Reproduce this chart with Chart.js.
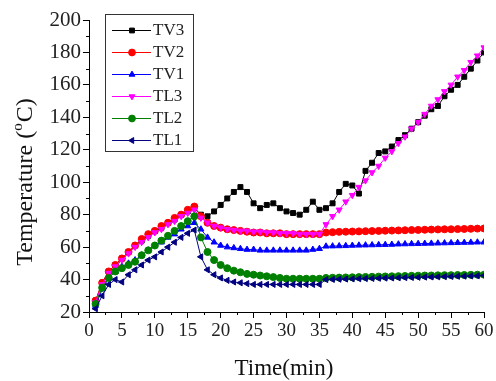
<!DOCTYPE html>
<html>
<head>
<meta charset="utf-8">
<script src="https://cdn.jsdelivr.net/npm/chart.js@4/dist/chart.umd.min.js"></script>
<style>
  html, body { margin: 0; padding: 0; background: #fff; }
  #wrap { width: 496px; height: 381px; position: relative; }
</style>
</head>
<body>
<div id="wrap"><canvas id="chart" width="496" height="381"></canvas></div>
<script>
// ── Dados (tempo em min, temperatura em °C) ──
const times = [1,2,3,4,5,6,7,8,9,10,11,12,13,14,15,16,17,18,19,20,21,22,23,24,25,26,27,28,29,30,
               31,32,33,34,35,36,37,38,39,40,41,42,43,44,45,46,47,48,49,50,51,52,53,54,55,56,57,58,59,60];

const tv3 = [27,38,45,49,53,57,61,64,67,70,72,75,77,80,82,84,80,79,82,86,90,94,97,94,87,84,86,87,84,82,
             81,80,83,88,83,84,87,94,99,98,93,107,112,118,119,122,126,129,133,137,141,145,147,153,157,160,165,170,175,180];
const tv2 = [27,38,45,49,53,57,61,65,68,70,73,75,78,80,83,85,79,75,73,72,71,70.5,70,69.5,69,69,68.5,68.5,68.5,68,
             68,68,68,68,68,69,69.2,69.4,69.5,69.6,69.7,69.8,69.9,70,70.1,70.2,70.3,70.4,70.5,70.6,70.7,70.8,70.9,71,71,71.1,71.2,71.3,71.4,71.5];
const tv1 = [24,34,41,45,48,50,52,55,58,61,63,66,68,71,73,75,71,66,63,61,60,59.5,59,58.5,58.5,58,58,58,58,58,
             58,58,58,58.5,59,60.5,60.6,60.7,60.8,61,61.1,61.2,61.3,61.4,61.5,61.6,61.8,61.9,62,62.1,62.2,62.3,62.4,62.5,62.6,62.7,62.8,62.9,63,63];
const tl3 = [26,37,44,48,52,56,60,63,66,69,71,74,76,79,81,83,78,75,73,72,71,70.5,70,70,69.5,69.5,69,69,68.5,68.5,
             68.5,68,68,68,68,74,79,83,88,92,97,101,106,110,115,119,124,128,133,137,142,147,151,156,160,165,169,174,178,183];
const tl2 = [25,35,41,45,47,49,51,55,58,61,64,67,70,73,76,79,66,57,52,49,47,45.5,44.5,43.5,43,42.5,42,41.5,41,40.5,
             40.5,40.5,40.5,40.5,40.5,41,41.1,41.2,41.3,41.4,41.5,41.6,41.7,41.8,41.9,42,42.1,42.2,42.3,42.4,42.5,42.5,42.6,42.7,42.7,42.8,42.8,42.9,43,43];
const tl1 = [22,30,37,40,38.5,43,46,49,52,54,57,60,63,66,68.5,70.5,54,46,43,41,39.5,38.5,38,37.5,37,37,37,37,37,37,
             37,37,37,37,37,40,40.1,40.2,40.3,40.4,40.5,40.6,40.7,40.8,40.9,41,41.1,41.2,41.3,41.4,41.5,41.6,41.7,41.8,41.9,42,42.1,42.2,42.3,42.5];

const xTicks = [0,5,10,15,20,25,30,35,40,45,50,55,60];
const yTicks = [20,40,60,80,100,120,140,160,180,200];

const SERIF = '"Liberation Serif", "Times New Roman", serif';

function pts(vals) { return times.map((t, i) => ({ x: t, y: vals[i] })); }

function serie(label, vals, color, style, rot, order) {
    return {
        label, data: pts(vals), order,
        borderColor: color, backgroundColor: color,
        borderWidth: 1, pointStyle: style, pointRotation: rot,
        pointRadius: 3.5, pointBorderWidth: 1, tension: 0,
    };
}

// ── Plugin: ticks menores, títulos dos eixos e legenda em caixa ──
const extras = {
    id: 'extras',
    afterDraw(chart) {
        const { ctx, chartArea: a, scales: { x, y } } = chart;
        ctx.save();
        ctx.strokeStyle = '#000';
        ctx.lineWidth = 1;
        // ticks menores
        for (let i = 0; i < yTicks.length - 1; i++) {
            const py = Math.round(y.getPixelForValue((yTicks[i] + yTicks[i + 1]) / 2)) + 0.5;
            ctx.beginPath(); ctx.moveTo(a.left - 3, py); ctx.lineTo(a.left, py); ctx.stroke();
        }
        for (let i = 0; i < xTicks.length - 1; i++) {
            const px = Math.round(x.getPixelForValue((xTicks[i] + xTicks[i + 1]) / 2)) + 0.5;
            ctx.beginPath(); ctx.moveTo(px, a.bottom); ctx.lineTo(px, a.bottom + 3); ctx.stroke();
        }

        // título do eixo x
        ctx.fillStyle = '#111';
        ctx.textAlign = 'center';
        ctx.textBaseline = 'middle';
        ctx.font = '23px ' + SERIF;
        ctx.fillText('Time(min)', 284, 369);

        // título do eixo y com "o" sobrescrito
        ctx.translate(26, 182);
        ctx.rotate(-Math.PI / 2);
        const big = '24px ' + SERIF, small = '15px ' + SERIF;
        ctx.font = big;
        const p1 = 'Temperature (', p3 = 'C)';
        const w1 = ctx.measureText(p1).width, w3 = ctx.measureText(p3).width;
        ctx.font = small;
        const w2 = ctx.measureText('o').width + 1;
        let sx = -(w1 + w2 + w3) / 2;
        ctx.textAlign = 'left';
        ctx.font = big; ctx.fillText(p1, sx, 0); sx += w1;
        ctx.font = small; ctx.fillText('o', sx, -8); sx += w2;
        ctx.font = big; ctx.fillText(p3, sx, 0);
        ctx.restore();

        // legenda
        ctx.save();
        const bx = 105.5, by = 14.5, bw = 88, bh = 137;
        ctx.strokeStyle = '#333';
        ctx.lineWidth = 1;
        ctx.strokeRect(bx, by, bw, bh);
        ctx.font = '17px ' + SERIF;
        ctx.textBaseline = 'middle';
        ctx.textAlign = 'left';
        chart.data.datasets.forEach((ds, i) => {
            const ly = 30 + i * 22;
            ctx.strokeStyle = ds.borderColor;
            ctx.beginPath(); ctx.moveTo(112, ly + 0.5); ctx.lineTo(151, ly + 0.5); ctx.stroke();
            ctx.fillStyle = ds.backgroundColor;
            Chart.helpers.drawPoint(ctx, { pointStyle: ds.pointStyle, rotation: ds.pointRotation, radius: 3.4, borderWidth: 1 }, 132, ly + 0.5);
            ctx.fillStyle = '#222';
            ctx.fillText(ds.label, 153, ly + 1);
        });
        ctx.restore();
    }
};

const axisCommon = {
    border: { display: true, color: '#000', width: 1 },
    grid: { display: true, drawOnChartArea: false, drawTicks: true, tickLength: 6, tickColor: '#000' },
};

new Chart(document.getElementById('chart').getContext('2d'), {
    type: 'line',
    data: {
        datasets: [
            serie('TV3', tv3, '#000000', 'rect', 0, 6),
            serie('TV2', tv2, '#ff0000', 'circle', 0, 5),
            serie('TV1', tv1, '#0000ff', 'triangle', 0, 4),
            serie('TL3', tl3, '#ff00ff', 'triangle', 180, 3),
            serie('TL2', tl2, '#008000', 'circle', 0, 2),
            serie('TL1', tl1, '#000080', 'triangle', -90, 1),
        ]
    },
    options: {
        responsive: false, animation: false,
        layout: { padding: { top: 20, right: 12, left: 0, bottom: 0 } },
        plugins: { legend: { display: false }, tooltip: { enabled: false } },
        scales: {
            x: {
                ...axisCommon, type: 'linear', min: 0, max: 60,
                afterBuildTicks: s => { s.ticks = xTicks.map(v => ({ value: v })); },
                afterFit: s => { s.height = 69; },
                ticks: { color: '#222', padding: 2, maxRotation: 0, font: { family: SERIF, size: 19 } },
            },
            y: {
                ...axisCommon, min: 20, max: 200,
                afterBuildTicks: s => { s.ticks = yTicks.map(v => ({ value: v })); },
                afterFit: s => { s.width = 89; },
                ticks: { color: '#222', padding: 2, font: { family: SERIF, size: 21 } },
            },
        },
    },
    plugins: [extras],
});
</script>
</body>
</html>
